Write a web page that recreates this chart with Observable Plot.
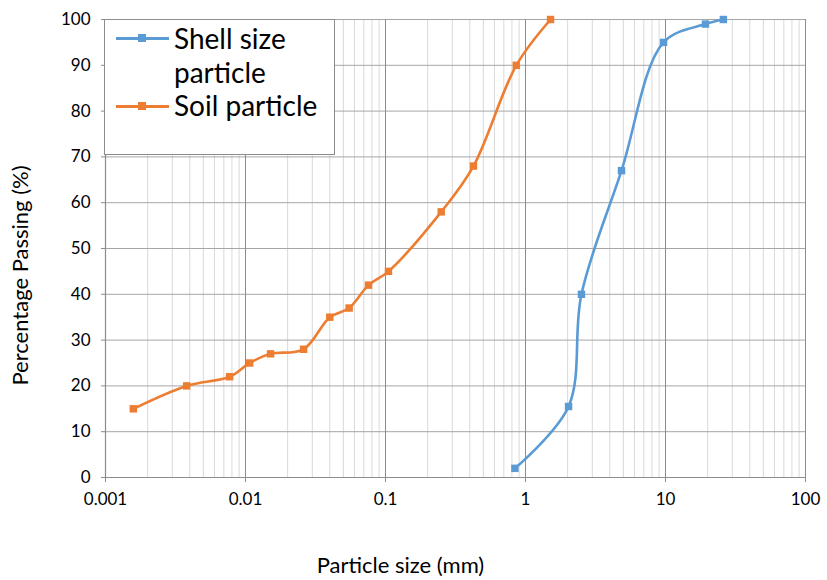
<!DOCTYPE html>
<html>
<head>
<meta charset="utf-8">
<script src="https://cdn.jsdelivr.net/npm/d3@7"></script>
<script src="https://cdn.jsdelivr.net/npm/@observablehq/plot@0.6"></script>
<style>
  html, body { margin: 0; padding: 0; background: #fff; }
  #wrap { position: relative; width: 827px; height: 580px; font-family: Lato, "Open Sans", sans-serif; }
  #legend { position: absolute; left: 104px; top: 19px; width: 231px; height: 136px; background: #fff; border: 1.5px solid #8c8c8c; box-sizing: border-box; }
  .lg-item { position: absolute; left: 0; font-size: 28px; line-height: 33px; color: #000; }
  .lg-text { position: absolute; left: 69px; white-space: nowrap; }
  .lg-sw { position: absolute; left: 11px; width: 53px; height: 3px; }
  .lg-mk { position: absolute; left: 22px; top: -3px; width: 8px; height: 8px; }
</style>
</head>
<body>
<div id="wrap"></div>
<script>
const seriesNames = ["Shell size particle", "Soil particle"];
const seriesColors = ["#5B9BD5", "#ED7D31"];

const shellSize = [0.84, 2.03, 2.51, 4.85, 9.68, 19.3, 25.9];
const shellPassing = [2, 15.5, 40, 67, 95, 99, 100];

const soilSize = [0.00158, 0.0038, 0.0077, 0.0107, 0.0151, 0.026, 0.04, 0.055, 0.0756, 0.105, 0.25, 0.425, 0.86, 1.51];
const soilPassing = [15, 20, 22, 25, 27, 28, 35, 37, 42, 45, 58, 68, 90, 100];

const xMajorTicks = [0.001, 0.01, 0.1, 1, 10, 100];
const xTickLabels = ["0.001", "0.01", "0.1", "1", "10", "100"];
const yTicks = [0, 10, 20, 30, 40, 50, 60, 70, 80, 90, 100];

const xMinorTicks = [];
for (let d = 0; d < xMajorTicks.length - 1; d++) {
  for (let k = 2; k <= 9; k++) xMinorTicks.push(xMajorTicks[d] * k);
}

const shell = shellSize.map((s, i) => ({size: s, passing: shellPassing[i]}));
const soil = soilSize.map((s, i) => ({size: s, passing: soilPassing[i]}));

const chart = Plot.plot({
  width: 827,
  height: 580,
  marginLeft: 105,
  marginRight: 22,
  marginTop: 19,
  marginBottom: 103,
  style: {fontFamily: "Lato, 'Open Sans', sans-serif", fontSize: "17px", color: "#000", background: "#fff"},
  x: {type: "log", domain: [0.001, 100]},
  y: {domain: [0, 100]},
  marks: [
    Plot.ruleX(xMinorTicks, {stroke: "#d9d9d9", strokeWidth: 1}),
    Plot.ruleY(yTicks, {stroke: "#a6a6a6", strokeWidth: 1}),
    Plot.ruleX(xMajorTicks, {stroke: "#8c8c8c", strokeWidth: 1}),
    Plot.ruleX([0.001], {stroke: "#8c8c8c", strokeWidth: 1.2}),
    Plot.ruleY([0], {stroke: "#8c8c8c", strokeWidth: 1.2}),
    Plot.axisX({ticks: xMajorTicks, tickFormat: (d) => xTickLabels[xMajorTicks.indexOf(d)], tickSize: 5, tickPadding: 10, stroke: "#8c8c8c", label: null, fontSize: 17}),
    Plot.axisY({ticks: yTicks, tickSize: 4, tickPadding: 11, stroke: "#8c8c8c", label: null, fontSize: 17}),
    Plot.line(soil, {x: "size", y: "passing", stroke: seriesColors[1], strokeWidth: 2.6, curve: "catmull-rom"}),
    Plot.line(shell, {x: "size", y: "passing", stroke: seriesColors[0], strokeWidth: 2.6, curve: "catmull-rom"}),
    Plot.dot(soil, {x: "size", y: "passing", symbol: "square", r: 4.2, fill: seriesColors[1]}),
    Plot.dot(shell, {x: "size", y: "passing", symbol: "square", r: 4.2, fill: seriesColors[0]}),
    Plot.text(["Particle size (mm)"], {frameAnchor: "bottom", textAnchor: "middle", dx: -55, dy: 95, fontSize: 22, fill: "#000"}),
    Plot.text(["Percentage Passing (%)"], {frameAnchor: "left", textAnchor: "middle", dx: -85, dy: 27, rotate: -90, fontSize: 22, fill: "#000"})
  ]
});

const wrap = document.getElementById("wrap");
wrap.appendChild(chart);

const legend = document.createElement("div");
legend.id = "legend";
legend.innerHTML = `
  <div class="lg-sw" style="top:17px;background:${seriesColors[0]}"><div class="lg-mk" style="background:${seriesColors[0]}"></div></div>
  <div class="lg-item" style="top:2px"><span class="lg-text">Shell size</span></div>
  <div class="lg-item" style="top:36px"><span class="lg-text">particle</span></div>
  <div class="lg-sw" style="top:85px;background:${seriesColors[1]}"><div class="lg-mk" style="background:${seriesColors[1]}"></div></div>
  <div class="lg-item" style="top:69px"><span class="lg-text">Soil particle</span></div>
`;
wrap.appendChild(legend);
</script>
</body>
</html>
